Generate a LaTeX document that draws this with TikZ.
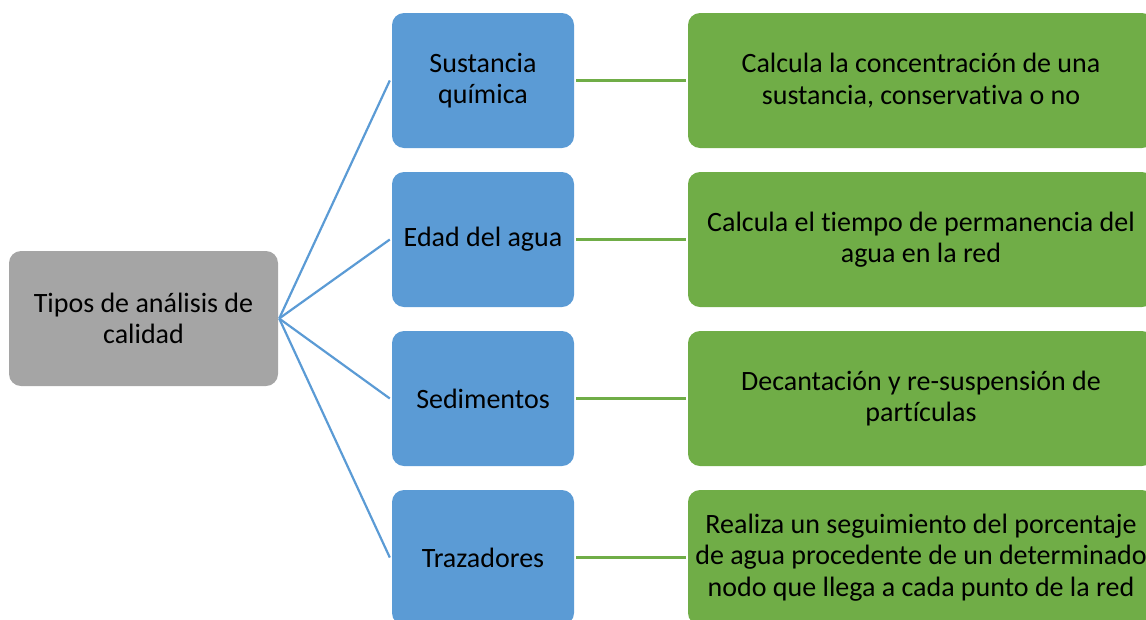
\documentclass[tikz,border=0pt]{standalone}
\usepackage{fontspec}
\setmainfont[RawFeature={-liga}]{Carlito}
\definecolor{cgray}{HTML}{A5A5A5}
\definecolor{cblue}{HTML}{5B9BD5}
\definecolor{cgreen}{HTML}{70AD47}
\begin{document}
\begin{tikzpicture}[x=1pt,y=-1pt,
  basebox/.style={rectangle, rounded corners=12pt, inner sep=0pt, minimum height=135pt, align=center, font=\fontsize{28}{31.5}\selectfont, text=black},
  graybox/.style={basebox, fill=cgray, minimum width=269pt},
  bluebox/.style={basebox, fill=cblue, minimum width=182pt},
  greenbox/.style={basebox, fill=cgreen, minimum width=466pt},
  blueline/.style={draw=cblue, line width=2.2pt},
  greenline/.style={draw=cgreen, line width=2.5pt}]
\useasboundingbox (0,0) rectangle (1146,619);
\clip (0,0) rectangle (1146,619);
\node[graybox] (g) at (143.5,318.5) {Tipos de análisis de\\calidad};
\node[bluebox] (b1) at (483,80.5) {Sustancia\\química};
\node[bluebox] (b2) at (483,239.5) {Edad del agua};
\node[bluebox] (b3) at (483,398.5) {Sedimentos};
\node[bluebox] (b4) at (483,557.5) {Trazadores};
\node[greenbox] (c1) at (921,80.5) {Calcula la concentración de una\\sustancia, conservativa o no};
\node[greenbox] (c2) at (921,239.5) {Calcula el tiempo de permanencia del\\agua en la red};
\node[greenbox] (c3) at (921,398.5) {Decantación y re-suspensión de\\partículas};
\node[greenbox] (c4) at (921,557.5) {Realiza un seguimiento del porcentaje\\de agua procedente de un determinado\\nodo que llega a cada punto de la red};
\foreach \i in {1,2,3,4}{
  \draw[blueline] ([xshift=1pt]g.east) -- ([xshift=-2pt]b\i.west);
  \draw[greenline] ([xshift=2pt]b\i.east) -- ([xshift=-2pt]c\i.west);
}
\end{tikzpicture}
\end{document}
